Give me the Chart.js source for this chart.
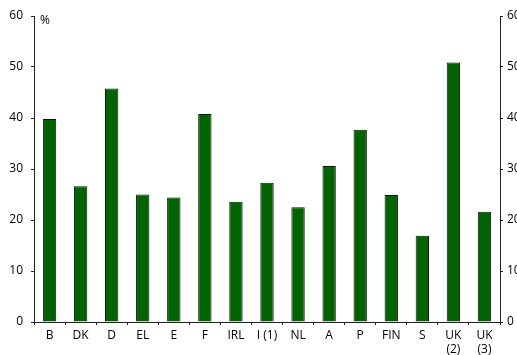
<!DOCTYPE html>
<html>
<head>
<meta charset="utf-8">
<script src="https://cdn.jsdelivr.net/npm/chart.js@4/dist/chart.umd.min.js"></script>
<style>
  html, body { margin: 0; padding: 0; background: #fff; }
  #wrap { position: relative; width: 517px; height: 355px; }
</style>
</head>
<body>
<div id="wrap"><canvas id="c" width="517" height="355"></canvas></div>
<script>
const categories = ['B', 'DK', 'D', 'EL', 'E', 'F', 'IRL', 'I (1)', 'NL', 'A', 'P', 'FIN', 'S', ['UK', '(2)'], ['UK', '(3)']];
const values = [39.8, 26.6, 45.8, 25.0, 24.4, 40.8, 23.6, 27.3, 22.5, 30.6, 37.7, 24.9, 16.9, 50.9, 21.6];
const yTicks = [0, 10, 20, 30, 40, 50, 60];
const unitLabel = '%';

const FONT = { family: 'Open Sans', size: 12 };
const AXIS = '#222';

const unitPlugin = {
  id: 'unit',
  afterDraw(chart) {
    const ctx = chart.ctx;
    const area = chart.chartArea;
    ctx.save();
    ctx.font = '12px "Open Sans"';
    ctx.fillStyle = '#000';
    ctx.textAlign = 'left';
    ctx.textBaseline = 'middle';
    ctx.fillText(unitLabel, area.left + 6, area.top + 5);
    ctx.restore();
  }
};

new Chart(document.getElementById('c'), {
  type: 'bar',
  data: {
    labels: categories,
    datasets: [{
      data: values,
      backgroundColor: '#006400',
      borderColor: '#111',
      borderWidth: 1,
      borderSkipped: 'bottom',
      categoryPercentage: 1,
      barPercentage: 0.43
    }]
  },
  options: {
    responsive: false,
    animation: false,
    devicePixelRatio: 1,
    layout: { padding: { top: 16, left: 0, right: 0, bottom: 0 } },
    plugins: { legend: { display: false }, tooltip: { enabled: false } },
    scales: {
      x: {
        grid: { display: true, drawOnChartArea: false, tickLength: 3, color: AXIS, offset: true },
        border: { display: true, color: AXIS, width: 1 },
        ticks: { color: '#000', font: FONT, padding: 3, maxRotation: 0, autoSkip: false },
        afterFit(s) { s.height = 33; }
      },
      y: {
        position: 'left',
        min: 0, max: 60,
        afterBuildTicks(s) { s.ticks = yTicks.map(v => ({ value: v })); },
        grid: { display: true, drawOnChartArea: false, tickLength: 3, color: AXIS },
        border: { display: true, color: AXIS, width: 1 },
        ticks: { color: '#000', font: FONT, padding: 8 },
        afterFit(s) { s.width = 34; }
      },
      y2: {
        position: 'right',
        min: 0, max: 60,
        afterBuildTicks(s) { s.ticks = yTicks.map(v => ({ value: v })); },
        grid: { display: true, drawOnChartArea: false, tickLength: 3, color: AXIS },
        border: { display: true, color: AXIS, width: 1 },
        ticks: { color: '#000', font: FONT, padding: 4 },
        afterFit(s) { s.width = 17; }
      }
    }
  },
  plugins: [unitPlugin]
});
</script>
</body>
</html>
